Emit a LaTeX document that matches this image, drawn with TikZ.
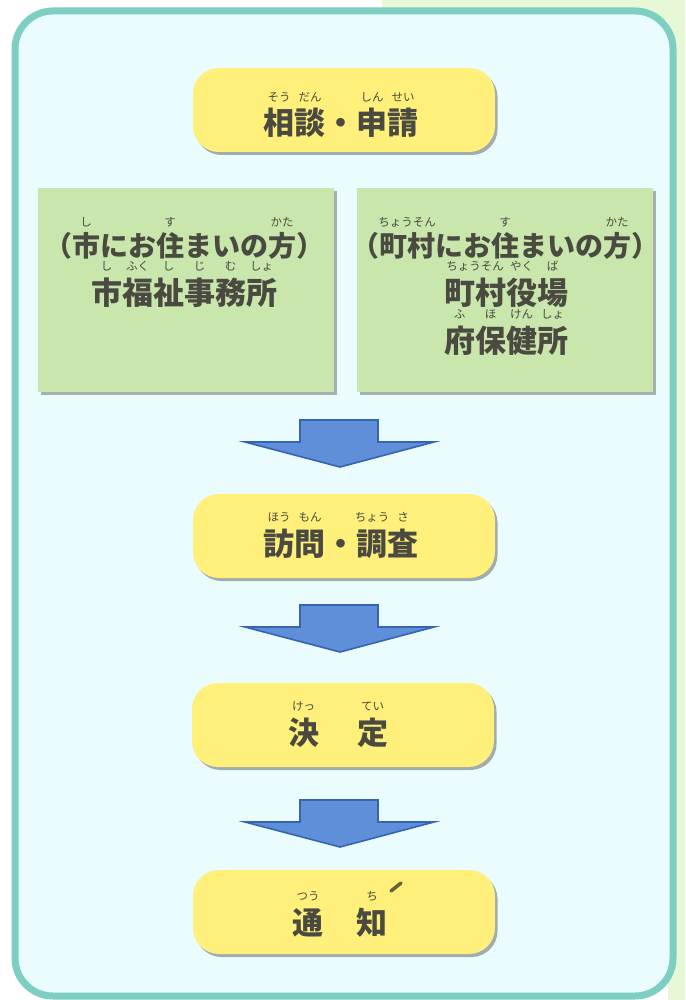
\documentclass[tikz,border=0pt]{standalone}
\usepackage{fontspec}
\newfontfamily\jp{Noto Sans CJK JP}
\usetikzlibrary{shadows}
\definecolor{frameteal}{RGB}{125,207,195}
\definecolor{innerbg}{RGB}{234,252,254}
\definecolor{outgreen}{RGB}{230,248,214}
\definecolor{boxyellow}{RGB}{254,240,122}
\definecolor{boxgreen}{RGB}{201,230,172}
\definecolor{txt}{RGB}{74,74,64}
\definecolor{arrfill}{RGB}{94,143,216}
\definecolor{arrdraw}{RGB}{54,100,180}
\newsavebox\rbbox
\newcommand\rb[2]{\leavevmode\sbox\rbbox{#1}\rlap{\raisebox{1.07em}{\makebox[\wd\rbbox]{\mdseries\fontsize{11.5}{11.5}\selectfont #2}}}\usebox\rbbox}
\tikzset{
  ybox/.style={draw=none, fill=boxyellow, rounded corners=26pt, minimum width=302pt, minimum height=84pt,
    drop shadow={shadow xshift=2.5pt, shadow yshift=-3pt, opacity=0.45, fill=black!70}},
  gbox/.style={draw=none, fill=boxgreen, minimum width=296pt, minimum height=203pt,
    drop shadow={shadow xshift=3pt, shadow yshift=-3pt, opacity=0.5, fill=black!60}},
  ttl/.style={anchor=base, inner sep=0pt, text=txt, font=\jp\bfseries\fontsize{31}{31}\selectfont},
  lin1/.style={anchor=base, inner sep=0pt, text=txt, font=\jp\bfseries\fontsize{28}{28}\selectfont},
  lin2/.style={anchor=base, inner sep=0pt, text=txt, font=\jp\bfseries\fontsize{31}{31}\selectfont},
  arrowstyle/.style={fill=arrfill, draw=arrdraw, line width=1.6pt, line join=miter},
  pics/blockarrow/.style={code={
    \draw[arrowstyle] (-40,0) -- (38,0) -- (38,22) -- (94,22) -- (0,47) -- (-95,22) -- (-40,22) -- cycle;
  }}
}
\begin{document}
\begin{tikzpicture}[x=1pt, y=-1pt]
\useasboundingbox (0,0) rectangle (685,1000);
\fill[white] (0,0) rectangle (685,1000);
\fill[outgreen] (382,0) -- (685,0) -- (685,1000) -- (668,1000) -- (668,20) -- (382,20) -- cycle;
\draw[line width=7pt, draw=frameteal, fill=innerbg, rounded corners=38pt] (15,11) rectangle (673,996);

% step boxes
\node[ybox] (b1) at (344,110) {};
\node[ttl] (t1) at (341,135) {\rb{相}{そう}\rb{談}{だん}・\rb{申}{しん}\rb{請}{せい}};

\node[gbox] (gl) at (186,290) {};
\node[gbox] (gr) at (505,290) {};
\node[lin1] (gl1) at (184,256) {（\rb{市}{し}にお\rb{住}{す}まいの\rb{方}{かた}）};
\node[lin2] (gl2) at (184,304) {\rb{市}{し}\rb{福}{ふく}\rb{祉}{し}\rb{事}{じ}\rb{務}{む}\rb{所}{しょ}};
\node[lin1] (gr1) at (505,256) {（\rb{町村}{ちょうそん}にお\rb{住}{す}まいの\rb{方}{かた}）};
\node[lin2] (gr2) at (506,304) {\rb{町村}{ちょうそん}\rb{役}{やく}\rb{場}{ば}};
\node[lin2] (gr3) at (506,352) {\rb{府}{ふ}\rb{保}{ほ}\rb{健}{けん}\rb{所}{しょ}};

\pic (a1) at (340,420) {blockarrow};

\node[ybox] (b2) at (344,536) {};
\node[ttl] (t2) at (341,555) {\rb{訪}{ほう}\rb{問}{もん}・\rb{調}{ちょう}\rb{査}{さ}};

\pic (a2) at (340,605) {blockarrow};

\node[ybox] (b3) at (343,725) {};
\node[ttl] (t3) at (338,744) {\rb{決}{けっ}\hspace{38pt}\rb{定}{てい}};

\pic (a3) at (340,800) {blockarrow};

\node[ybox] (b4) at (344,912) {};
\node[ttl] (t4) at (340,934) {\rb{通}{つう}\hspace{33pt}\rb{知}{ち}};
\draw[line width=3.5pt, line cap=round, draw=txt!85!yellow] (391,891) -- (401,883);
\end{tikzpicture}
\end{document}
